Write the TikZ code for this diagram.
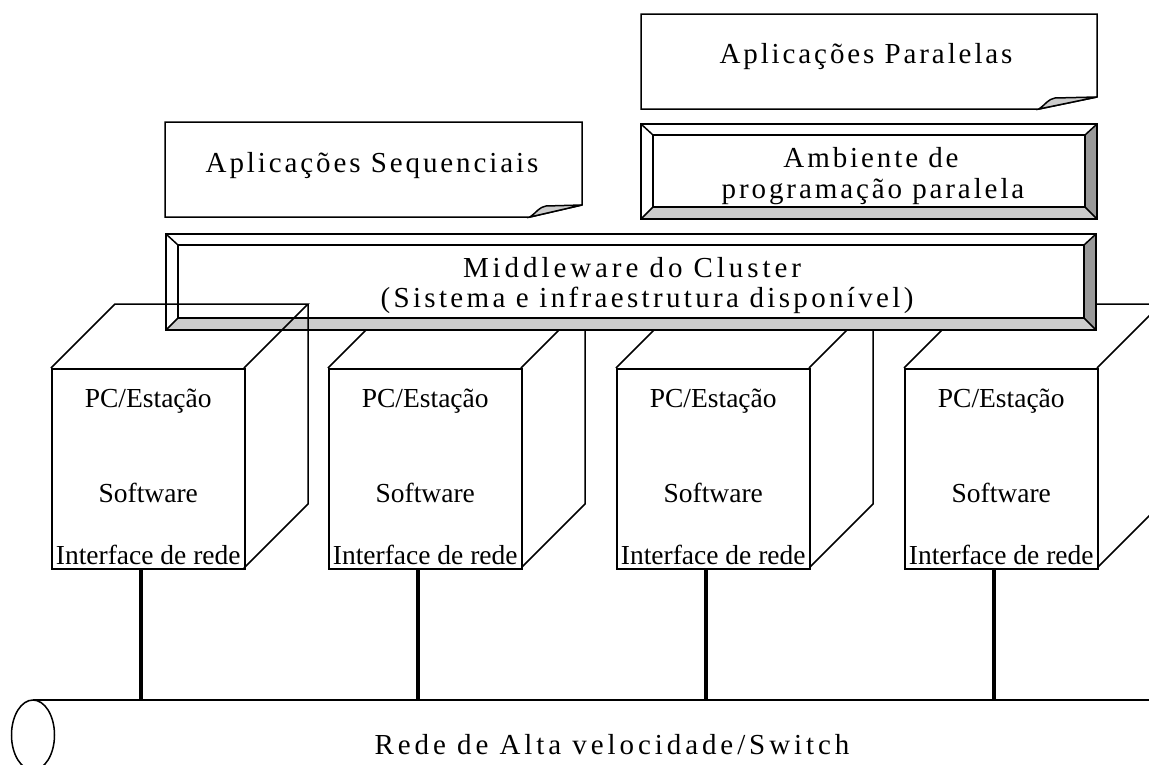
\documentclass[tikz,border=0pt]{standalone}
\usepackage{fontspec}
\setmainfont{Liberation Serif}
\newfontfamily\spaced[LetterSpace=10]{Liberation Serif}
\newfontfamily\spacedw[LetterSpace=13.5]{Liberation Serif}
\newfontfamily\spacedm[LetterSpace=11.5]{Liberation Serif}
\usetikzlibrary{calc}
\definecolor{lgray}{HTML}{CCCCCC}
\definecolor{dgray}{HTML}{999999}
\tikzset{
  edge/.style={line width=1.5pt, line join=miter},
  lbl/.style={font=\fontsize{27.5}{32}\selectfont, inner sep=0pt},
  slbl/.style={font=\spaced\fontsize{29}{34}\selectfont, inner sep=0pt},
  wlbl/.style={font=\spacedw\fontsize{29}{34}\selectfont, inner sep=0pt},
  mlbl/.style={font=\spacedm\fontsize{29}{34}\selectfont, inner sep=0pt},
  link/.style={line width=4pt},
  face/.style={edge, minimum width=193pt, minimum height=200pt, anchor=north west, inner sep=0pt},
}
% bevel box: x1,y1,x2,y2
\newcommand\bevelbox[4]{%
  \fill[white] (#1,#2) rectangle (#3,#4);
  \fill[lgray] (#1,#4) -- ({#1+12},{#4-12}) -- ({#3-12},{#4-12}) -- (#3,#4) -- cycle;
  \fill[dgray] (#3,#2) -- ({#3-12},{#2+11}) -- ({#3-12},{#4-12}) -- (#3,#4) -- cycle;
  \draw[edge] (#1,#2) rectangle (#3,#4);
  \draw[edge] ({#1+12},{#2+11}) rectangle ({#3-12},{#4-12});
  \draw[edge] (#1,#2) -- ({#1+12},{#2+11}) (#3,#2) -- ({#3-12},{#2+11})
              (#1,#4) -- ({#1+12},{#4-12}) (#3,#4) -- ({#3-12},{#4-12});
}
% note box with curled corner: x1,y1,x2,y2,fold width
\newcommand\notebox[5]{%
  \draw[edge, fill=white] (#1,#2) -- (#3,#2) -- (#3,{#4-12}) -- ({#3-#5},#4) -- (#1,#4) -- cycle;
  \draw[edge, fill=lgray] ({#3-#5},#4) .. controls ({#3-#5+6},{#4-4}) and ({#3-#5+9},{#4-10}) .. ({#3-#5+16},{#4-11}) -- (#3,{#4-12}) -- cycle;
}
% cube top and right faces: front-left x
\newcommand\cubesides[1]{%
  \draw[edge] (#1,368) -- ({#1+64},304) -- ({#1+257},304) -- ({#1+193},368);
  \draw[edge] ({#1+257},304) -- ({#1+257},504) -- ({#1+193},568);
}
\begin{document}
\begin{tikzpicture}[x=1pt,y=-1pt]
\useasboundingbox (0,0) rectangle (1149,764);
\clip (0,0) rectangle (1149,764);

% top boxes
\notebox{641}{14}{1097}{109}{58}
\node[slbl] (par) at (866,57) {Aplicações Paralelas};
\notebox{165}{122}{582}{217}{52}
\node[slbl] (seq) at (372,166) {Aplicações Sequenciais};
\bevelbox{641}{124}{1097}{219}
\node[slbl] (amb1) at (871,158) {Ambiente de};
\node[slbl] (amb2) at (873,192) {programação paralela};

% cubes behind the middleware
\foreach \x/\n in {328/2,616/3,904/4}{
  \cubesides{\x}
  \node[face, draw, fill=white] (cube\n) at (\x,368) {};
}

% middleware
\bevelbox{166}{234}{1096}{330}

% first cube in front
\cubesides{51}
\node[face, draw] (cube1) at (51,368) {};

\node[wlbl] (mid1) at (632,268) {Middleware do Cluster};
\node[mlbl] (mid2) at (647,300) {(Sistema e infraestrutura disponível)};

% cube labels
\foreach \n in {1,2,3,4}{
  \node[lbl] (pc\n) at ($(cube\n.north)+(0,33)$) {PC/Estação};
  \node[lbl] (sw\n) at ($(cube\n.north)+(0,125)$) {Software};
  \node[lbl] (if\n) at ($(cube\n.north)+(0,187)$) {Interface de rede};
}

% network
\coordinate (netL) at (33,700);
\coordinate (netR) at (1149,700);
\draw[edge] (netL) -- (netR);
\draw[edge] (33,735) ellipse [x radius=21.5, y radius=35];
\node[wlbl] (net) at (612,745) {Rede de Alta velocidade/Switch};

\foreach \n in {1,2,3,4}{
  \coordinate (tap\n) at ($(cube\n.south)+(-7,0)$);
  \draw[link] (tap\n) -- (tap\n |- netL);
}
\end{tikzpicture}
\end{document}
